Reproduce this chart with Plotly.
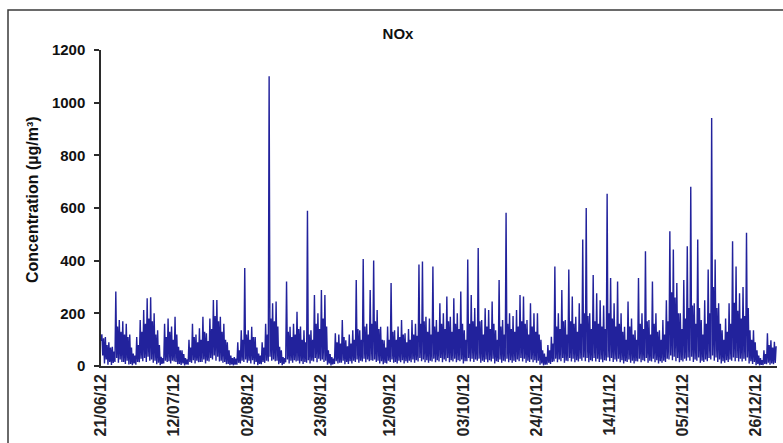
import pandas as pd
import plotly.graph_objects as go

# NOx concentration (µg/m³), 6-hourly readings, starting 21/06/12 00:00
start_date = "2012-06-21 00:00"
nox = [
    95, 120, 40, 105,   10, 110, 25, 80,
    5, 90, 15, 70,      4, 73, 12, 55,
    15, 283, 30, 150,   12, 175, 25, 130,
    15, 170, 15, 120,   8, 160, 20, 110,
    6, 120, 8, 70,      3, 47, 10, 40,
    5, 110, 15, 80,     14, 175, 28, 130,
    18, 213, 30, 160,   15, 257, 35, 180,
    20, 261, 25, 170,   12, 200, 20, 120,
    7, 136, 12, 80,     3, 35, 8, 30,
    10, 160, 20, 110,   15, 180, 18, 130,
    10, 150, 20, 100,   17, 187, 15, 120,
    7, 73, 8, 60,       4, 60, 10, 45,
    2, 30, 6, 25,       5, 100, 15, 70,
    12, 160, 22, 110,   10, 120, 20, 90,
    14, 143, 15, 100,   15, 187, 25, 130,
    10, 124, 20, 95,    17, 180, 30, 140,
    25, 251, 40, 190,   20, 251, 35, 170,
    17, 187, 20, 130,   12, 160, 15, 100,
    7, 90, 8, 60,       3, 40, 6, 30,
    2, 34, 5, 28,       5, 90, 12, 60,
    10, 136, 20, 100,   15, 372, 25, 120,
    12, 136, 20, 100,   10, 149, 22, 110,
    7, 110, 15, 70,     3, 47, 8, 40,
    7, 90, 15, 70,      12, 160, 20, 120,
    17, 1100, 35, 180,  20, 238, 25, 170,
    18, 245, 20, 150,   7, 73, 12, 60,
    3, 34, 8, 30,       14, 321, 25, 130,
    10, 149, 20, 110,   12, 160, 22, 120,
    17, 206, 20, 140,   10, 150, 18, 100,
    8, 136, 15, 90,     12, 590, 22, 120,
    10, 136, 20, 100,   17, 270, 30, 160,
    14, 200, 28, 140,   20, 289, 25, 180,
    15, 270, 20, 150,   5, 60, 10, 45,
    2, 34, 6, 28,       8, 124, 18, 90,
    10, 120, 12, 85,    12, 175, 20, 110,
    7, 98, 15, 75,      8, 120, 18, 85,
    10, 136, 20, 100,   15, 327, 25, 140,
    12, 136, 20, 100,   17, 406, 28, 150,
    14, 160, 25, 120,   18, 289, 22, 160,
    20, 401, 25, 170,   15, 213, 20, 140,
    10, 149, 18, 100,   7, 98, 12, 70,
    10, 150, 20, 100,   15, 315, 25, 130,
    12, 136, 15, 100,   10, 150, 20, 110,
    14, 175, 22, 120,   10, 124, 18, 90,
    12, 140, 20, 100,   14, 175, 25, 120,
    12, 160, 22, 115,   17, 385, 30, 160,
    18, 397, 25, 170,   14, 187, 22, 130,
    12, 180, 20, 120,   17, 378, 28, 150,
    14, 175, 22, 130,   17, 238, 30, 160,
    14, 200, 25, 140,   18, 264, 30, 170,
    14, 187, 22, 130,   17, 257, 28, 160,
    14, 200, 22, 140,   18, 283, 25, 160,
    10, 136, 18, 100,   18, 404, 30, 160,
    17, 270, 28, 170,   15, 220, 25, 150,
    20, 448, 28, 170,   12, 175, 20, 120,
    15, 219, 25, 150,   14, 213, 22, 140,
    17, 245, 28, 160,   10, 136, 18, 100,
    15, 327, 25, 150,   12, 175, 20, 120,
    17, 582, 28, 160,   14, 200, 22, 140,
    12, 190, 20, 130,   15, 213, 25, 150,
    18, 270, 30, 170,   17, 264, 28, 160,
    12, 175, 20, 120,   15, 238, 25, 150,
    14, 200, 22, 130,   12, 200, 20, 120,
    5, 100, 10, 60,     2, 47, 5, 35,
    5, 80, 12, 60,      8, 111, 15, 85,
    17, 378, 28, 150,   14, 200, 25, 140,
    18, 289, 30, 170,   12, 175, 20, 120,
    18, 366, 30, 170,   17, 264, 28, 160,
    14, 187, 22, 130,   17, 238, 28, 160,
    20, 480, 32, 200,   18, 600, 30, 190,
    14, 200, 22, 140,   18, 346, 30, 170,
    17, 276, 28, 160,   15, 250, 25, 150,
    14, 230, 22, 140,   20, 654, 32, 200,
    18, 334, 30, 180,   15, 238, 25, 150,
    17, 321, 28, 160,   14, 200, 22, 130,
    10, 149, 18, 100,   15, 245, 25, 150,
    12, 180, 20, 120,   10, 136, 18, 100,
    17, 334, 28, 160,   14, 200, 22, 140,
    18, 436, 30, 170,   12, 175, 20, 120,
    17, 321, 28, 160,   14, 200, 22, 130,
    10, 136, 18, 100,   12, 175, 20, 120,
    15, 250, 28, 170,   25, 512, 40, 280,
    22, 442, 35, 260,   18, 315, 30, 200,
    14, 200, 22, 140,   17, 327, 28, 180,
    20, 455, 32, 220,   20, 681, 35, 230,
    15, 238, 25, 160,   20, 480, 32, 220,
    12, 175, 20, 120,   15, 250, 25, 160,
    18, 366, 30, 200,   25, 942, 40, 300,
    20, 404, 32, 220,   15, 238, 25, 160,
    10, 136, 18, 100,   12, 180, 22, 130,
    15, 238, 25, 160,   20, 474, 32, 240,
    18, 378, 30, 210,   17, 276, 28, 180,
    17, 300, 28, 190,   20, 506, 32, 220,
    10, 136, 18, 100,   8, 136, 15, 90,
    3, 60, 8, 40,       2, 30, 4, 22,
    3, 60, 8, 45,       7, 124, 12, 80,
    5, 98, 10, 70,      7, 92, 12, 75,
]

tick_dates = ["2012-06-21", "2012-07-12", "2012-08-02", "2012-08-23", "2012-09-12",
              "2012-10-03", "2012-10-24", "2012-11-14", "2012-12-05", "2012-12-26"]
tick_labels = ["21/06/12", "12/07/12", "02/08/12", "23/08/12", "12/09/12",
               "03/10/12", "24/10/12", "14/11/12", "05/12/12", "26/12/12"]
y_ticks = [0, 200, 400, 600, 800, 1000, 1200]

times = pd.date_range(start_date, periods=len(nox), freq="6h")

FONT = "Arial, Liberation Sans, sans-serif"
W, H = 783, 443
L, R, T, B = 101, 6, 50, 77
pw, ph = W - L - R, H - T - B

fig = go.Figure()
fig.add_trace(go.Scatter(x=times, y=nox, mode="lines",
                         line=dict(color="#22229c", width=1.4), showlegend=False))

fig.update_layout(
    width=W, height=H,
    margin=dict(l=L, r=R, t=T, b=B),
    paper_bgcolor="white", plot_bgcolor="white",
    font=dict(family=FONT, color="#111111"),
    title=dict(text="<b>NOx</b>", x=398 / W, xref="container", xanchor="center",
               y=1 - 33.5 / H, yref="container", yanchor="middle",
               font=dict(size=15, family=FONT, color="#111111")),
    xaxis=dict(range=["2012-06-21", "2013-01-01"], tickmode="array",
               tickvals=tick_dates, ticktext=["<b>%s</b>" % t for t in tick_labels],
               tickangle=-90, tickfont=dict(size=16, family=FONT, color="#222222"),
               showline=True, linecolor="#2b2b2b", linewidth=1.5,
               showgrid=False, zeroline=False, ticks=""),
    yaxis=dict(range=[0, 1200], tickmode="array", tickvals=y_ticks,
               ticktext=["<b>%d</b>" % v for v in y_ticks],
               tickfont=dict(size=15, family=FONT, color="#111111"),
               showline=True, linecolor="#2b2b2b", linewidth=1.5,
               ticks="outside", ticklen=5, tickcolor="#2b2b2b", tickwidth=1.5,
               ticklabelstandoff=6,
               showgrid=False, zeroline=False),
    annotations=[dict(text="<b>Concentration (µg/m³)</b>", textangle=-90,
                      xref="paper", yref="paper",
                      x=(32 - L) / pw, y=(H - B - 200) / ph,
                      xanchor="center", yanchor="middle", showarrow=False,
                      font=dict(size=16, family=FONT, color="#111111"))],
    shapes=[dict(type="rect", xref="paper", yref="paper",
                 x0=(8 - L) / pw, x1=(W + 20 - L) / pw,
                 y0=(H - B - (H + 40)) / ph, y1=(H - B - 10) / ph,
                 line=dict(color="#3a3a3a", width=1.5), fillcolor="rgba(0,0,0,0)",
                 layer="below")],
)

fig.write_html("out.html")
